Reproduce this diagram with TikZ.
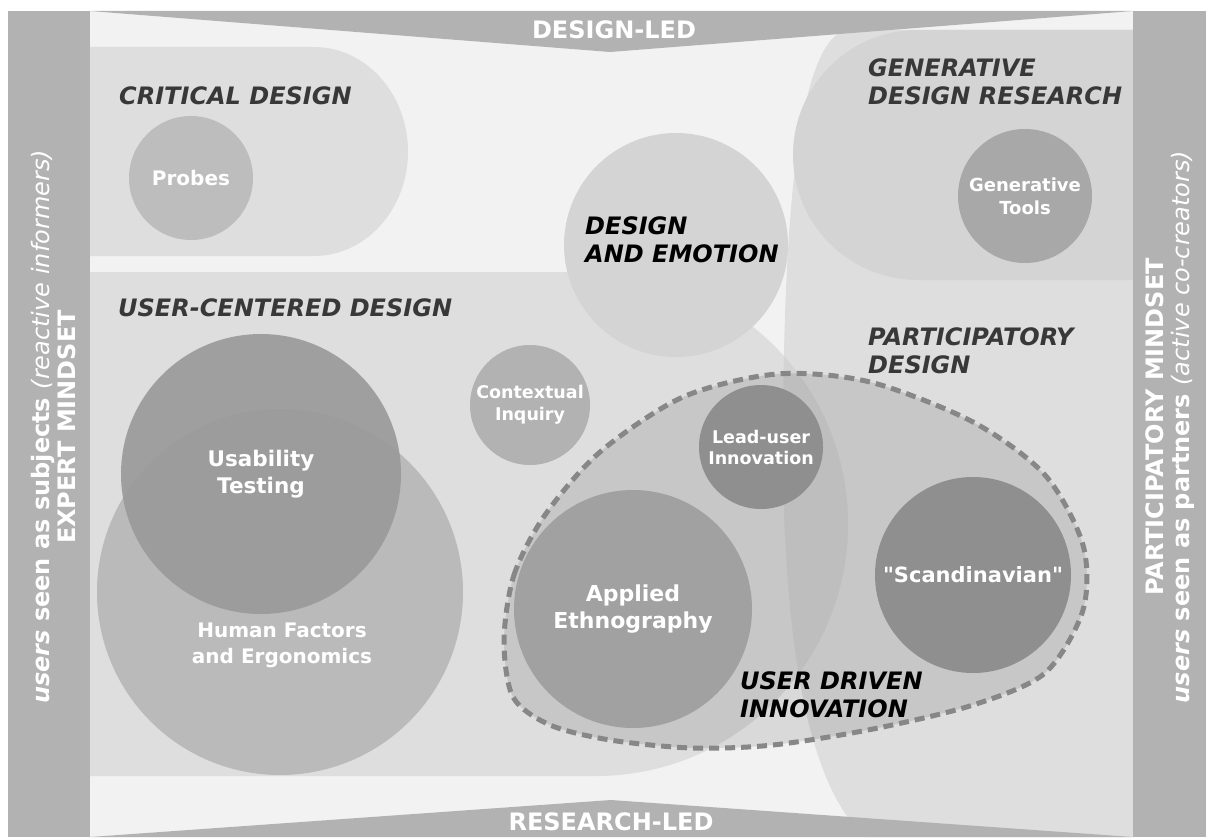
\documentclass[tikz,border=0pt]{standalone}
\usepackage{fontspec}
\setmainfont{DejaVu Sans}[Ligatures=TeXOff]
\usetikzlibrary{positioning}

\begin{document}
\begin{tikzpicture}[
  x=1pt, y=-1pt,
  field/.style={fill=black!5},
  bar/.style={fill=black!30},
  zone/.style={fill=black!13},
  method/.style={circle, inner sep=0pt, text=white, align=center,
                 font=\bfseries},
  zonelbl/.style={anchor=north west, inner sep=0pt, align=left, text=black!78,
                  font=\fontsize{24}{28}\selectfont\bfseries\itshape},
  barlbl/.style={text=white, inner sep=0pt, align=center,
                 font=\fontsize{24}{26}\selectfont\bfseries},
  udiline/.style={draw=black!47, line width=5pt, dash pattern=on 10pt off 6pt},
]
\useasboundingbox (0,0) rectangle (1206,837);

% ---------------- field -------------------------------------------------
\fill[field] (90,11) rectangle (1133,837);

% ---------------- critical design ---------------------------------------
\fill[zone] (90,47) -- (314,47)
  arc[start angle=90, end angle=-90, x radius=94pt, y radius=104.5pt]
  -- (90,256) -- cycle;

% ---------------- participatory and generative --------------------------
\fill[zone] (1133,30) -- (845,30) .. controls (800,45) and (784,200) .. (783,430)
  .. controls (782,650) and (810,790) .. (866,837) -- (1133,837) -- cycle;
\fill[black!17] (1133,30) -- (918,30)
  arc[start angle=90, end angle=270, radius=125pt] -- (1133,280) -- cycle;

% ---------------- user-centered design ----------------------------------
\fill[zone] (90,272) -- (596,272)
  arc[start angle=90, end angle=-90, radius=252pt] -- (90,776) -- cycle;
\begin{scope}
  \clip (90,272) -- (596,272)
    arc[start angle=90, end angle=-90, radius=252pt] -- (90,776) -- cycle;
  \fill[black!17] (1133,30) -- (845,30) .. controls (800,45) and (784,200) .. (783,430)
    .. controls (782,650) and (810,790) .. (866,837) -- (1133,837) -- cycle;
\end{scope}

% ---------------- design and emotion ------------------------------------
\node[circle, fill=black!17, inner sep=0pt, minimum size=224pt] (emotion) at (676,245) {};

% ---------------- user driven innovation --------------------------------
\fill[black, fill opacity=0.1] plot[smooth cycle] coordinates {
  (504,640) (514,575) (545,515) (600,452) (683,397) (777,374) (870,382)
  (973,422) (1045,475) (1083,545) (1083,610) (1045,673) (973,705)
  (873,729) (773,745) (692,748) (610,740) (550,725) (513,697)};

% ---------------- methods -----------------------------------------------
\node[method, fill=black!27, minimum size=366pt] (hf) at (280,592) {};
\node[method, font=\fontsize{20}{26}\selectfont\bfseries] (hflbl) at (282,645)
  {Human Factors\\and Ergonomics};
\node[method, fill=black!40, fill opacity=0.9, text opacity=1, minimum size=280pt,
      font=\fontsize{21.5}{27}\selectfont\bfseries] (usab) at (261,474) {Usability\\Testing};

\foreach \nm/\x/\y/\r/\tone/\fs/\bs/\txt in {
  probes/191/178/62/26/20/24/{Probes},
  gentools/1025/196/67/34/18/23/{Generative\\Tools},
  inquiry/530/405/60/30/17.5/22/{Contextual\\Inquiry},
  ethno/633/609/119/37/22/27/{Applied\\Ethnography},
  leaduser/761/447/62/44/17.5/21/{Lead-user\\Innovation},
  scandi/973/575/98/44/21/24/{"Scandinavian"}} {
  \node[method, fill=black!\tone, minimum size=\r*2pt,
        font=\fontsize{\fs}{\bs}\selectfont\bfseries] (\nm) at (\x,\y) {\txt};
}

\draw[udiline] plot[smooth cycle] coordinates {
  (504,640) (514,575) (545,515) (600,452) (683,397) (777,374) (870,382)
  (973,422) (1045,475) (1083,545) (1083,610) (1045,673) (973,705)
  (873,729) (773,745) (692,748) (610,740) (550,725) (513,697)};

% ---------------- bands and side bars -----------------------------------
\fill[bar] (90,11) -- (1133,11) -- (610,52) -- cycle;
\fill[bar] (90,837) -- (611,800) -- (1133,837) -- cycle;
\fill[bar] (8,11) rectangle (90,837);
\fill[bar] (1133,11) rectangle (1206,837);

\node[barlbl] (designled) at (614,30) {DESIGN-LED};
\node[barlbl] (researchled) at (611,822) {RESEARCH-LED};
\node[barlbl, rotate=90] (expert) at (54,427)
  {{\itshape users} seen as subjects {\mdseries\itshape (reactive informers)}\\EXPERT MINDSET};
\node[barlbl, rotate=90] (partners) at (1170,427)
  {PARTICIPATORY MINDSET\\{\itshape users} seen as partners {\mdseries\itshape (active co-creators)}};

% ---------------- zone labels -------------------------------------------
\node[zonelbl] (critical) at (119,86) {CRITICAL DESIGN};
\node[zonelbl] (ucd) at (118,298) {USER-CENTERED DESIGN};
\node[zonelbl] (generative) at (868,58) {GENERATIVE\\DESIGN RESEARCH};
\node[zonelbl] (pd) at (868,327) {PARTICIPATORY\\DESIGN};
\node[zonelbl, text=black] (emotionlbl) at (585,216) {DESIGN\\AND EMOTION};
\node[zonelbl, text=black] (udi) at (740,671) {USER DRIVEN\\INNOVATION};

\end{tikzpicture}
\end{document}
